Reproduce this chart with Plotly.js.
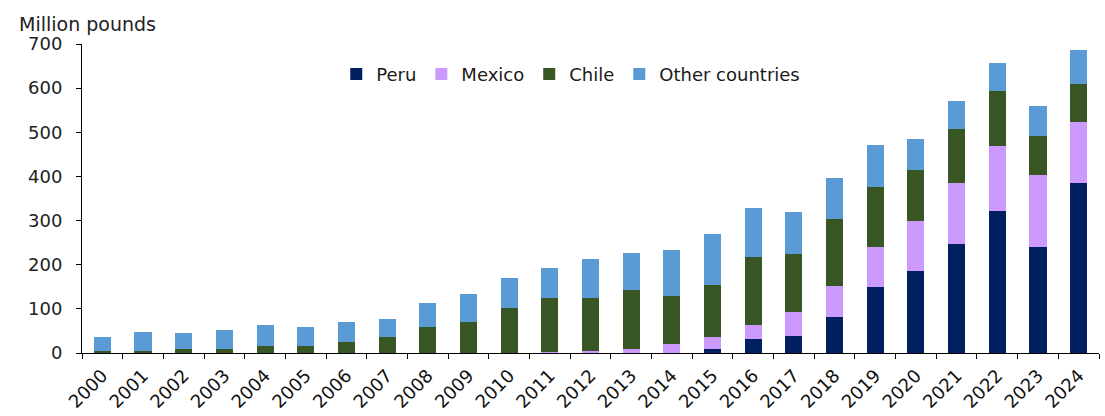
<!DOCTYPE html>
<html>
<head>
<meta charset="utf-8">
<script src="https://cdn.plot.ly/plotly-3.0.1.min.js"></script>
<style>html,body{margin:0;padding:0;background:#fff;}#chart{width:1105px;height:416px;}</style>
</head>
<body>
<div id="chart"></div>
<script>
const years = ['2000','2001','2002','2003','2004','2005','2006','2007','2008','2009','2010','2011','2012','2013','2014','2015','2016','2017','2018','2019','2020','2021','2022','2023','2024'];
const peru   = [0,0,0,0,0,0,0,0,0,0,0,0,0,0,1,10,31,39,81,149,185,246,321,241,384];
const mexico = [0,0,0,0,0,0,0,0,0,1,1,2,5,10,20,27,33,53,71,91,114,140,149,162,140];
const chile  = [5,5,10,10,17,17,26,36,60,70,102,123,119,133,109,116,154,133,152,135,115,121,124,88,85];
const other  = [31,43,36,41,47,41,45,40,53,62,67,67,88,84,104,117,110,95,93,97,70,64,64,69,77];
const yTicks = [0,100,200,300,400,500,600,700];

const FONT = 'DejaVu Sans, Arial, sans-serif';
function tr(name, y, color){
  return {type:'bar', name:name, x:years, y:y, marker:{color:color, line:{width:0}}, hoverinfo:'y+name'};
}
const data = [
  tr('Peru', peru, '#002060'),
  tr('Mexico', mexico, '#CC99FF'),
  tr('Chile', chile, '#375623'),
  tr('Other countries', other, '#5B9BD5')
];
const layout = {
  width:1105, height:416,
  margin:{l:82, r:6, t:44, b:63},
  barmode:'stack', bargap:0.58,
  paper_bgcolor:'#fff', plot_bgcolor:'#fff',
  font:{family:FONT, size:18, color:'#1a1a1a'},
  showlegend:true,
  legend:{orientation:'h', x:0.25, y:0.962, xanchor:'left', yanchor:'top', traceorder:'normal',
          font:{family:FONT, size:18, color:'#1a1a1a'}, bgcolor:'rgba(0,0,0,0)', itemwidth:30},
  xaxis:{type:'category', tickangle:-45, tickson:'boundaries', ticks:'outside', ticklen:5, tickcolor:'#000',
         showline:true, linecolor:'#000', linewidth:1, showgrid:false, zeroline:false,
         tickfont:{family:FONT, size:18, color:'#111'}, ticklabelstandoff:4, fixedrange:true},
  yaxis:{range:[0,700], tickvals:yTicks, ticks:'outside', ticklen:5, tickcolor:'#000',
         showline:true, linecolor:'#000', linewidth:1, showgrid:false, zeroline:false,
         tickfont:{family:FONT, size:18, color:'#222'}, ticklabelstandoff:10, fixedrange:true},
  annotations:[{text:'Million pounds', xref:'paper', yref:'paper', x:-0.0635, y:1.0, xanchor:'left', yanchor:'bottom',
                yshift:7, showarrow:false, font:{family:FONT, size:19, color:'#222'}}]
};
Plotly.newPlot('chart', data, layout, {displayModeBar:false, staticPlot:true});
</script>
</body>
</html>
